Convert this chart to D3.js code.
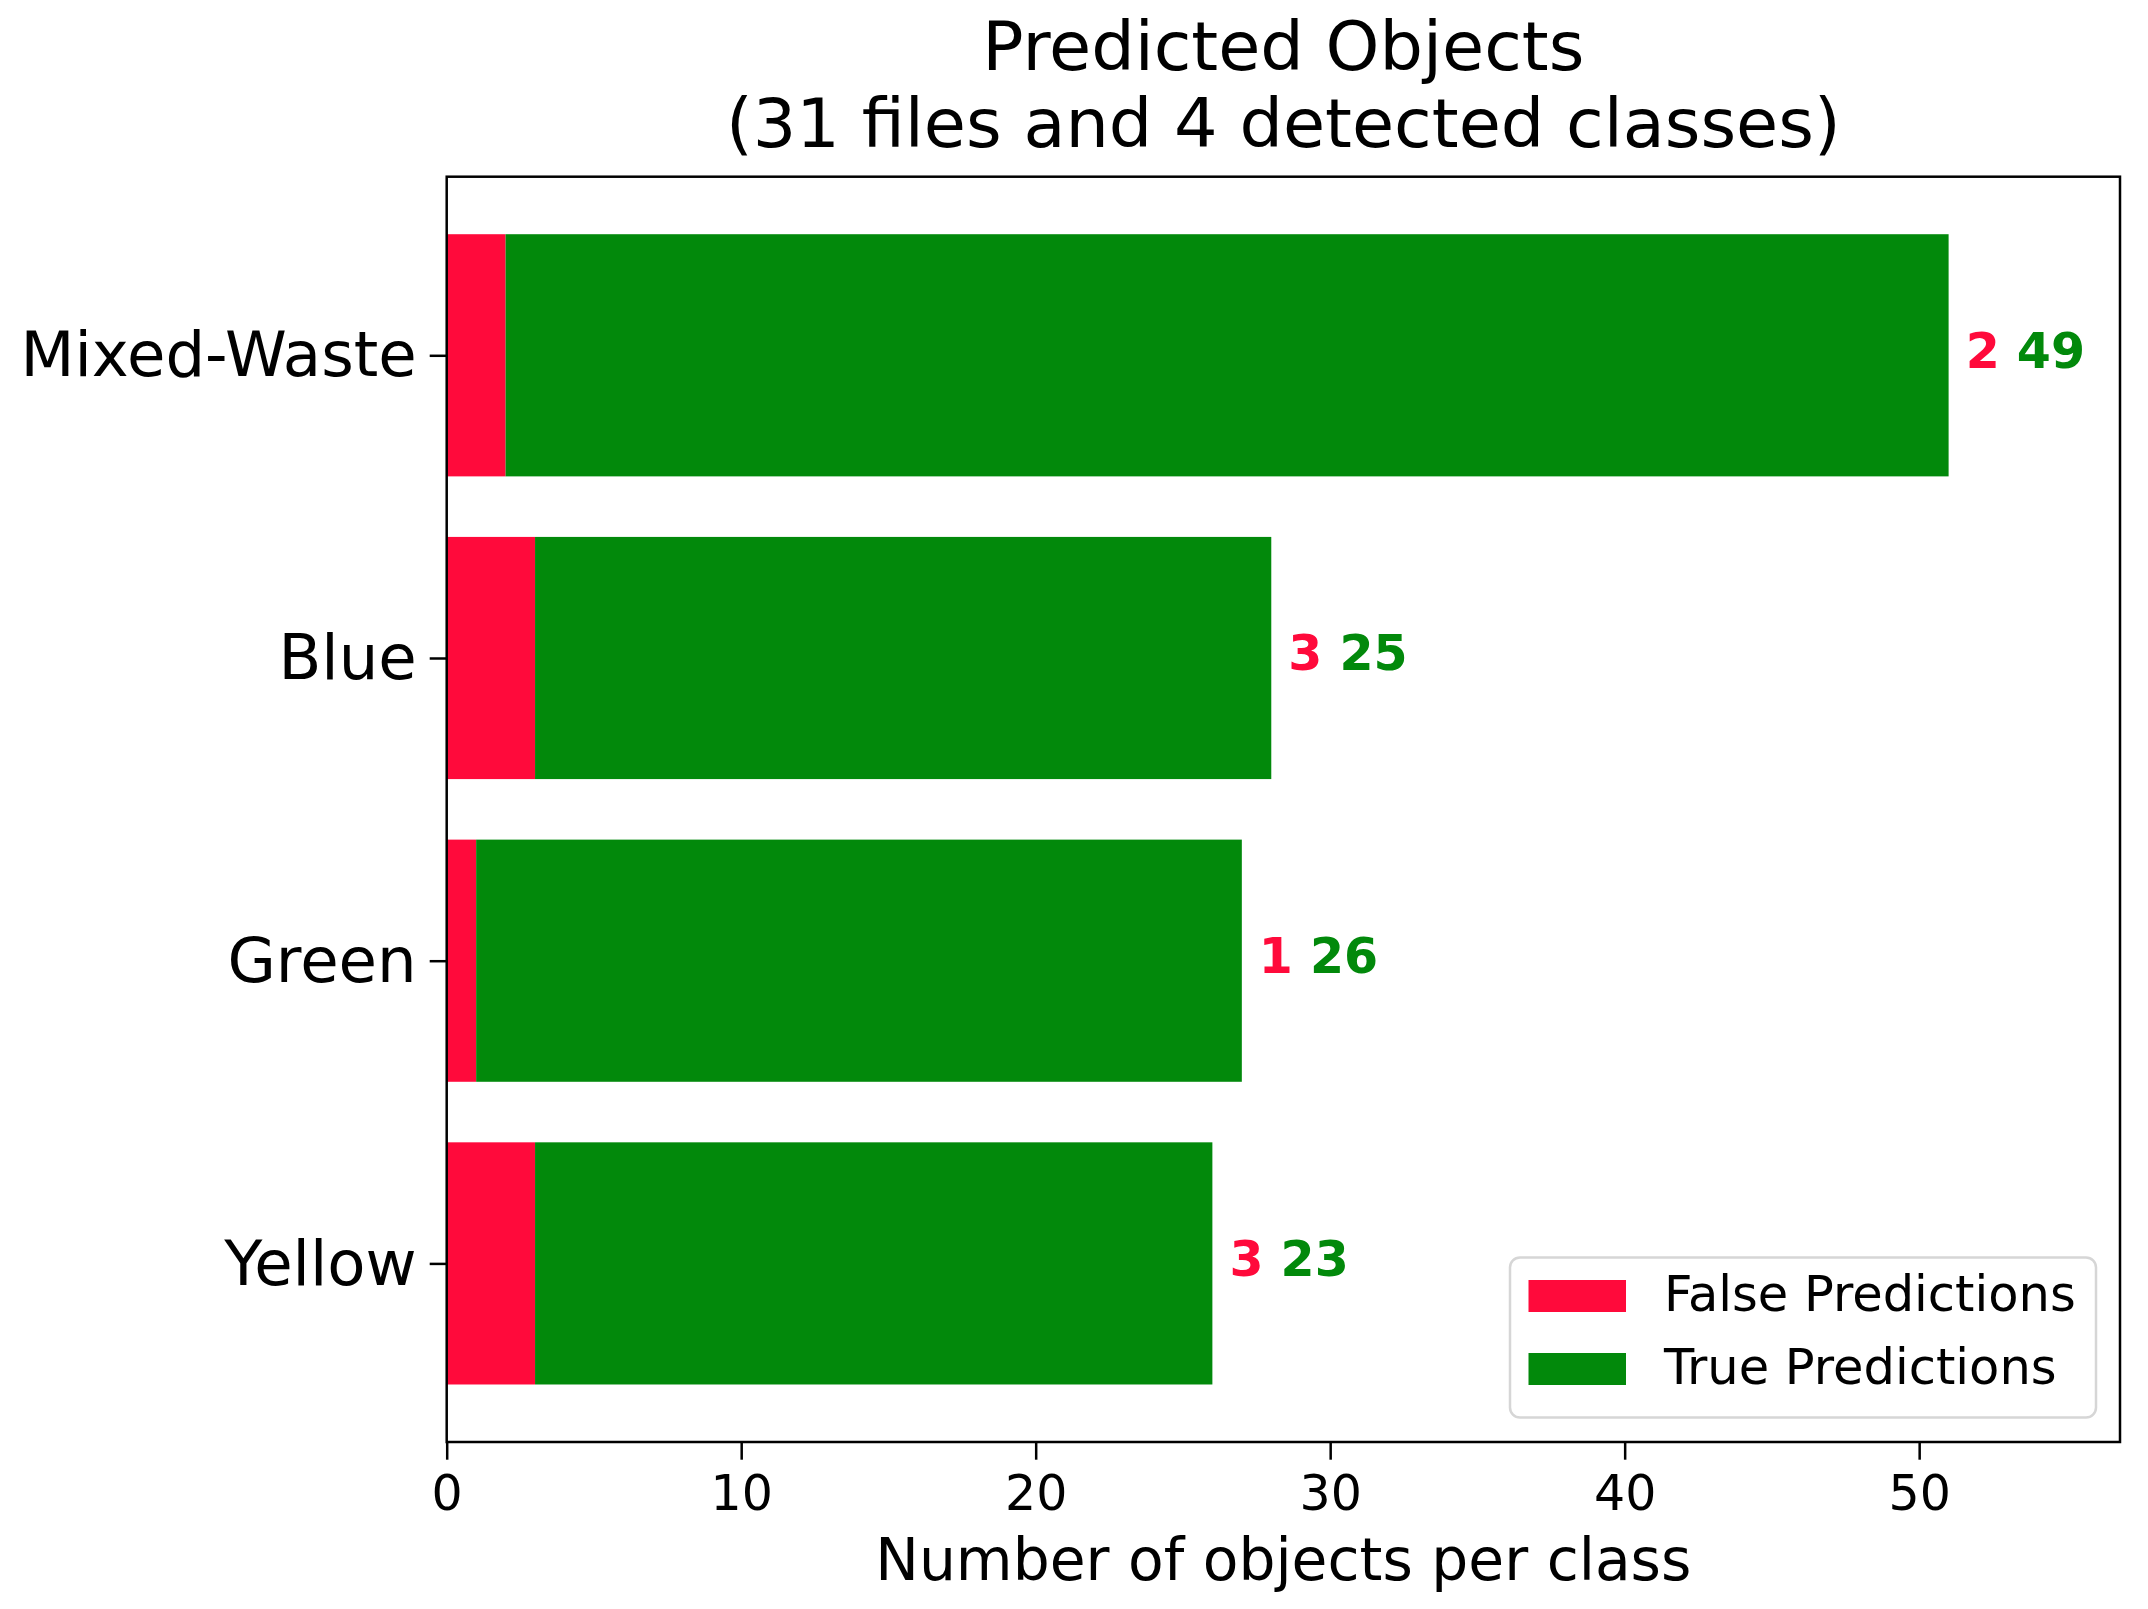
<!DOCTYPE html>
<html>
<head>
<meta charset="utf-8">
<script src="https://cdn.jsdelivr.net/npm/d3@7"></script>
<style>
  html, body { margin: 0; padding: 0; background: #ffffff; }
  svg { display: block; font-family: "DejaVu Sans", sans-serif; }
</style>
</head>
<body>
<svg id="chart" width="2148" height="1609"></svg>
<script>
// ---- data (bottom to top, as drawn) ----
const categories = ["Yellow", "Green", "Blue", "Mixed-Waste"];
const falsePredictions = [3, 1, 3, 2];
const truePredictions = [23, 26, 25, 49];
const xTicks = [0, 10, 20, 30, 40, 50];
const titleLines = ["Predicted Objects", "(31 files and 4 detected classes)"];
const xLabel = "Number of objects per class";
const legendLabels = ["False Predictions", "True Predictions"];

// ---- styles ----
const RED = "#FF0A3B";
const GREEN = "#02890B";
const seriesColors = [RED, GREEN];

const margin = { left: 446.7, right: 2120, top: 176.7, bottom: 1442 };
const svg = d3.select("#chart");

const x = d3.scaleLinear().domain([0, 56.82]).range([margin.left, margin.right]);
const y = d3.scaleLinear().domain([-0.59, 3.59]).range([margin.bottom, margin.top]);
const barH = (y(0) - y(0.8));

// bars
const rows = categories.map((c, i) => ({ c, i, f: falsePredictions[i], t: truePredictions[i] }));
const g = svg.append("g");
g.selectAll("rect.fp").data(rows).join("rect")
  .attr("class", "fp")
  .attr("x", d => x(0))
  .attr("y", d => y(d.i) - barH / 2)
  .attr("width", d => x(d.f) - x(0))
  .attr("height", barH)
  .attr("fill", RED);
g.selectAll("rect.tp").data(rows).join("rect")
  .attr("class", "tp")
  .attr("x", d => x(d.f))
  .attr("y", d => y(d.i) - barH / 2)
  .attr("width", d => x(d.f + d.t) - x(d.f))
  .attr("height", barH)
  .attr("fill", GREEN);

// value labels
const lab = g.selectAll("text.val").data(rows).join("text")
  .attr("class", "val")
  .attr("x", d => x(d.f + d.t))
  .attr("y", d => y(d.i) + 12.5)
  .attr("font-size", 49)
  .attr("font-weight", "bold")
  .attr("xml:space", "preserve")
  .style("white-space", "pre");
lab.append("tspan").attr("fill", RED).text(d => " " + d.f);
lab.append("tspan").attr("fill", GREEN).text(d => " " + d.t);

// axes
const xAxis = d3.axisBottom(x).tickValues(xTicks).tickSize(17.7).tickPadding(16).tickFormat(d3.format("d"));
const gx = svg.append("g").attr("transform", `translate(0,${margin.bottom})`).call(xAxis);
gx.select(".domain").remove();
gx.selectAll(".tick line").attr("stroke", "#000").attr("stroke-width", 2.5);
gx.selectAll(".tick text").attr("font-size", 49).attr("fill", "#000").attr("font-family", "DejaVu Sans");

const yAxis = d3.axisLeft(y).tickValues(d3.range(categories.length)).tickSize(17).tickPadding(13)
  .tickFormat(i => categories[i]);
const gy = svg.append("g").attr("transform", `translate(${margin.left},0)`).call(yAxis);
gy.select(".domain").remove();
gy.selectAll(".tick line").attr("stroke", "#000").attr("stroke-width", 2.5);
gy.selectAll(".tick text").attr("font-size", 62.5).attr("fill", "#000").attr("dy", "0.33em")
  .attr("font-family", "DejaVu Sans");

// frame
svg.append("rect")
  .attr("x", margin.left).attr("y", margin.top)
  .attr("width", margin.right - margin.left).attr("height", margin.bottom - margin.top)
  .attr("fill", "none").attr("stroke", "#000").attr("stroke-width", 2.5);

// title
svg.append("g").selectAll("text").data(titleLines).join("text")
  .attr("x", (margin.left + margin.right) / 2)
  .attr("y", (d, i) => 70 + i * 76.5)
  .attr("text-anchor", "middle")
  .attr("font-size", 68.5)
  .attr("fill", "#000")
  .text(d => d);

// x label
svg.append("text")
  .attr("x", (margin.left + margin.right) / 2)
  .attr("y", 1580)
  .attr("text-anchor", "middle")
  .attr("font-size", 58.3)
  .attr("fill", "#000")
  .text(xLabel);

// legend
const lg = svg.append("g");
lg.append("rect")
  .attr("x", 1510).attr("y", 1257.5).attr("width", 586).attr("height", 160)
  .attr("rx", 10).attr("ry", 10)
  .attr("fill", "#ffffff").attr("fill-opacity", 0.85)
  .attr("stroke", "#d6d6d6").attr("stroke-width", 2.5);
const items = lg.selectAll("g.item").data(legendLabels).join("g").attr("class", "item")
  .attr("transform", (d, i) => `translate(0,${i * 73})`);
items.append("rect")
  .attr("x", 1528.5).attr("y", 1280).attr("width", 97.5).attr("height", 32)
  .attr("fill", (d, i) => seriesColors[i]);
items.append("text")
  .attr("x", 1664).attr("y", 1311)
  .attr("font-size", 49.5).attr("fill", "#000")
  .text(d => d);
</script>
</body>
</html>
